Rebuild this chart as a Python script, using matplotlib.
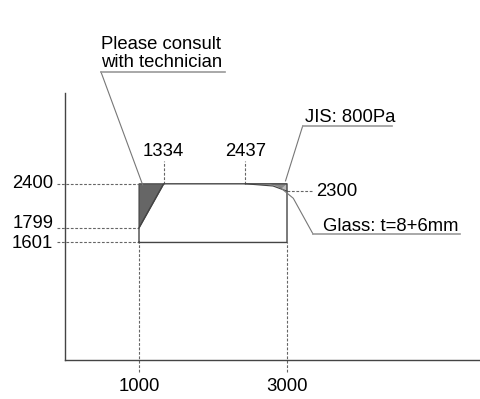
import matplotlib.pyplot as plt
from matplotlib.patches import Polygon

plt.rcParams['font.family'] = ['Liberation Sans', 'DejaVu Sans']

# frame size limits
w_min, w_max = 1000, 3000
h_min, h_max = 1601, 2400
# cut-off points
h_cut = 1799      # left edge where the "consult" zone starts
w_cut = 1334      # top edge where the "consult" zone ends
w_glass = 2437    # top edge where the glass limit starts
h_glass = 2300    # right edge where the glass limit ends
w_knee, h_knee = 2811, 2370  # bend of the glass limit curve

x_ticks = [w_min, w_max]
y_ticks = [h_max, h_cut, h_min]
top_ticks = [w_cut, w_glass]

consult_zone = [(w_min, h_max), (w_cut, h_max), (w_min, h_cut)]
glass_zone = [(w_glass, h_max), (w_max, h_max), (w_max, h_glass), (w_knee, h_knee)]
glass_dark = [(2770, h_max), (w_max, h_max), (2930, 2340)]

fig = plt.figure(figsize=(4.8, 3.99), dpi=100)
ax = fig.add_axes([65/480, 39/399, 415/480, 267/399])
ax.set_xlim(0, 5608)
ax.set_ylim(0, 3637)
for s in ['top', 'right']:
    ax.spines[s].set_visible(False)
for s in ['left', 'bottom']:
    ax.spines[s].set_color('#444444')
    ax.spines[s].set_linewidth(1.0)
ax.set_xticks([])
ax.set_yticks([])

dash = dict(color='#666666', linestyle=(0, (2.5, 1.5)), linewidth=0.8, clip_on=False)
fs = 13.3

# guides on the left (1799 label sits a bit above its line, as in the drawing)
nudge = {h_max: 0, h_cut: 3.5, h_min: -0.5}
for y in y_ticks:
    ax.plot([-108, w_min], [y, y], **dash)
    ax.annotate(str(y), xy=(-158, y), xytext=(0, nudge[y]), textcoords='offset points',
                ha='right', va='center', fontsize=fs, annotation_clip=False)
# guides at the bottom
for x in x_ticks:
    ax.plot([x, x], [-163, h_min], **dash)
    ax.text(x, -361, str(x), ha='center', va='center', fontsize=fs)
# guides at the top
for x in top_ticks:
    ax.plot([x, x], [h_max, 2711], **dash)
    ax.text(x, 2834, str(x), ha='center', va='center', fontsize=fs)
# guide on the right
ax.plot([w_max, 3338], [h_glass, h_glass], **dash)
ax.text(3392, h_glass, str(h_glass), ha='left', va='center', fontsize=fs)

# zones
ax.add_patch(Polygon(glass_zone, closed=True, facecolor='#bbbbbb', edgecolor='none'))
ax.add_patch(Polygon(glass_dark, closed=True, facecolor='#888888', edgecolor='none'))
ax.add_patch(Polygon(consult_zone, closed=True, facecolor='#666666',
                     edgecolor='#444444', linewidth=0.8))

# frame outline
ax.plot([w_min, w_min, w_cut, w_max, w_max, w_min],
        [h_min, h_cut, h_max, h_max, h_min, h_min],
        color='#444444', linewidth=1.0, clip_on=False)
ax.plot([w_glass, w_knee, w_max], [h_max, h_knee, h_glass],
        color='#444444', linewidth=0.8)

lead = dict(color='#777777', linewidth=0.8, clip_on=False)
under = dict(color='#999999', linewidth=1.2, clip_on=False)

# Please consult with technician
ax.plot([1050, 486], [2384, 3924], **lead)
ax.plot([486, 2162], [3924, 3924], **under)
ax.text(486, 3996, 'Please consult\nwith technician', ha='left', va='baseline',
        fontsize=fs, linespacing=1.05)

# JIS
ax.plot([2980, 3212], [2440, 3188], **lead)
ax.plot([3212, 4419], [3188, 3188], **under)
ax.text(3240, 3243, 'JIS: 800Pa', ha='left', va='baseline', fontsize=fs)

# Glass
ax.plot([2905, 3085, 3351], [2353, 2203, 1717], **lead)
ax.plot([3351, 5338], [1717, 1717], **under)
ax.text(3486, 1751, 'Glass: t=8+6mm', ha='left', va='baseline', fontsize=fs)

fig.savefig('out.png', dpi=100)
